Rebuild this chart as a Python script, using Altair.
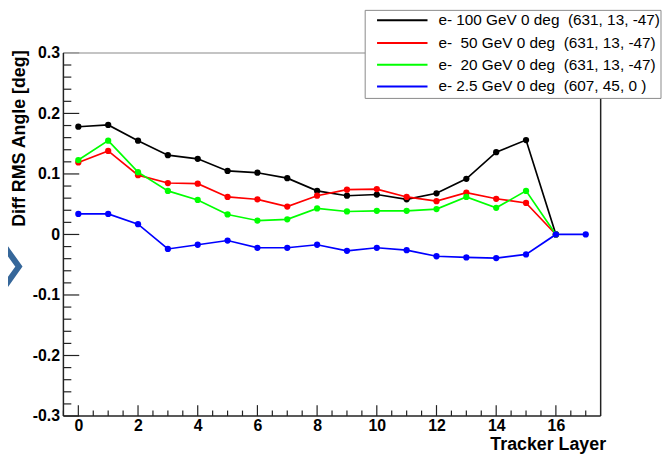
import altair as alt
import pandas as pd

# ---------------- data ----------------
layers = [0, 1, 2, 3, 4, 5, 6, 7, 8, 9, 10, 11, 12, 13, 14, 15, 16, 17]

series_names = [
    "e- 100 GeV 0 deg\u00a0\u00a0(631, 13, -47)",
    "e-\u00a0\u00a050 GeV 0 deg\u00a0\u00a0(631, 13, -47)",
    "e-\u00a0\u00a020 GeV 0 deg\u00a0\u00a0(631, 13, -47)",
    "e- 2.5 GeV 0 deg\u00a0\u00a0(607, 45, 0 )",
]
series_colors = ["#000000", "#ff0000", "#00ff00", "#0000ff"]

vals_100 = [0.178, 0.181, 0.155, 0.131, 0.125, 0.105, 0.102, 0.093, 0.072,
            0.064, 0.066, 0.058, 0.068, 0.092, 0.136, 0.156, 0.0]
vals_50 = [0.119, 0.138, 0.098, 0.085, 0.084, 0.062, 0.058, 0.046, 0.064,
           0.074, 0.075, 0.062, 0.055, 0.069, 0.059, 0.052, 0.0]
vals_20 = [0.123, 0.155, 0.103, 0.072, 0.057, 0.033, 0.023, 0.025, 0.043,
           0.038, 0.039, 0.039, 0.042, 0.062, 0.044, 0.072, 0.0]
vals_2p5 = [0.034, 0.034, 0.017, -0.024, -0.017, -0.010, -0.022, -0.022, -0.017,
            -0.027, -0.022, -0.026, -0.036, -0.038, -0.039, -0.033, 0.0, 0.0]

x_major = [0, 2, 4, 6, 8, 10, 12, 14, 16]
x_minor = [-0.5, 0.5, 1, 1.5, 2.5, 3, 3.5, 4.5, 5, 5.5, 6.5, 7, 7.5, 8.5, 9, 9.5,
           10.5, 11, 11.5, 12.5, 13, 13.5, 14.5, 15, 15.5, 16.5, 17]
y_major = [-0.3, -0.2, -0.1, 0, 0.1, 0.2, 0.3]
y_minor = [-0.28, -0.26, -0.24, -0.22, -0.18, -0.16, -0.14, -0.12, -0.08, -0.06,
           -0.04, -0.02, 0.02, 0.04, 0.06, 0.08, 0.12, 0.14, 0.16, 0.18, 0.22,
           0.24, 0.26, 0.28]

x_title = "Tracker Layer"
y_title = "Diff RMS Angle [deg]"

# ---------------- layout ----------------
W, H = 543, 367
FONT = "Liberation Sans"

rows = []
for name, vals in zip(series_names, [vals_100, vals_50, vals_20, vals_2p5]):
    for i, v in enumerate(vals):
        rows.append({"layer": layers[i], "value": v, "series": name})
df = pd.DataFrame(rows)

xscale = alt.Scale(domain=[-0.5, 17.5], nice=False, zero=False)
yscale = alt.Scale(domain=[-0.3, 0.3], nice=False, zero=False)
cscale = alt.Scale(domain=series_names, range=series_colors)

xaxis = alt.Axis(values=x_major, title=x_title, grid=False, domain=False,
                 ticks=False, tickSize=0, labelPadding=2, labelFontSize=16,
                 labelFontWeight="bold", labelFont=FONT, labelColor="#000",
                 titleFont=FONT, titleFontSize=18, titleFontWeight="bold",
                 titleColor="#000", titleX=W + 5, titleY=34, titleAlign="right",
                 titleBaseline="alphabetic", format="d", labelFlush=False)
yaxis = alt.Axis(values=y_major, title=y_title, grid=False, domain=False,
                 ticks=False, tickSize=0, labelPadding=4, labelFontSize=16,
                 labelFontWeight="bold", labelFont=FONT, labelColor="#000",
                 labelExpr="datum.value == 0 ? '0' : (datum.value < 0 ? '-' + format(-datum.value, '.1f') : format(datum.value, '.1f'))",
                 titleFont=FONT, titleFontSize=18, titleFontWeight="bold",
                 titleColor="#000", titleAngle=270, titleX=-44, titleY=-3,
                 titleAlign="right", titleBaseline="middle", labelFlush=False)

one = pd.DataFrame({"k": [0]})

# frame
frame = [
    alt.Chart(one).mark_rule(color="#b0b0b0", strokeWidth=1.5).encode(
        x=alt.value(0), x2=alt.value(W), y=alt.value(0)),
    alt.Chart(one).mark_rule(color="#222222", strokeWidth=1.5).encode(
        x=alt.value(0), y=alt.value(0), y2=alt.value(H)),
    alt.Chart(one).mark_rule(color="#222222", strokeWidth=1.5).encode(
        x=alt.value(0), x2=alt.value(W), y=alt.value(H)),
    alt.Chart(one).mark_rule(color="#222222", strokeWidth=1.5).encode(
        x=alt.value(W), y=alt.value(0), y2=alt.value(H)),
]

# inward ticks
xmaj = alt.Chart(pd.DataFrame({"layer": x_major})).mark_rule(
    color="#222222", strokeWidth=1.2).encode(
    x=alt.X("layer:Q", scale=xscale, axis=xaxis),
    y=alt.value(H), y2=alt.value(H - 11))
xmin = alt.Chart(pd.DataFrame({"layer": x_minor})).mark_rule(
    color="#222222", strokeWidth=1.2).encode(
    x=alt.X("layer:Q", scale=xscale, axis=xaxis),
    y=alt.value(H), y2=alt.value(H - 5.5))
ymaj = alt.Chart(pd.DataFrame({"value": y_major})).mark_rule(
    color="#222222", strokeWidth=1.2).encode(
    y=alt.Y("value:Q", scale=yscale, axis=yaxis),
    x=alt.value(0), x2=alt.value(16))
ymin = alt.Chart(pd.DataFrame({"value": y_minor})).mark_rule(
    color="#222222", strokeWidth=1.2).encode(
    y=alt.Y("value:Q", scale=yscale, axis=yaxis),
    x=alt.value(0), x2=alt.value(8))

# series
series_layers = []
for name in series_names:
    base = alt.Chart(df).transform_filter(alt.datum.series == name).encode(
        x=alt.X("layer:Q", scale=xscale, axis=xaxis),
        y=alt.Y("value:Q", scale=yscale, axis=yaxis),
        color=alt.Color("series:N", scale=cscale, legend=None),
    )
    series_layers.append(base.mark_line(strokeWidth=1.7))
    series_layers.append(base.mark_circle(size=40, opacity=1))

# legend (manual, ROOT style box)
leg_x0, leg_x1, leg_y0, leg_y1 = 305, 604, -43, 46
row_y = [-33, -10, 12, 34]
legend_layers = [
    alt.Chart(one).mark_rect(fill="white", stroke="#8a8a8a", strokeWidth=1).encode(
        x=alt.value(leg_x0), x2=alt.value(leg_x1),
        y=alt.value(leg_y0), y2=alt.value(leg_y1))
]
for name, col, ry in zip(series_names, series_colors, row_y):
    legend_layers.append(
        alt.Chart(one).mark_rule(color=col, strokeWidth=2).encode(
            x=alt.value(317), x2=alt.value(368), y=alt.value(ry)))
    legend_layers.append(
        alt.Chart(one).mark_text(align="left", baseline="middle", font=FONT,
                                 fontSize=15.5, color="#000", text=name).encode(
            x=alt.value(379), y=alt.value(ry)))

# slide decoration: chevron on the left
chevron = alt.Chart(one).mark_point(
    shape="M-0.71,-1L0,0L-0.71,1", filled=False, size=3844, strokeWidth=6,
    color="#36679a", opacity=1, strokeJoin="miter").encode(
    x=alt.value(-45), y=alt.value(216))

chart = alt.layer(
    *series_layers, xmaj, xmin, ymaj, ymin, *frame, *legend_layers, chevron
).properties(
    width=W, height=H,
    autosize=alt.AutoSizeParams(type="none"),
    padding={"left": 56, "top": 43, "right": 62, "bottom": 36},
    background="white",
).configure_view(strokeWidth=0)

chart.save("out.html", embed_options={"renderer": "svg", "actions": False})
